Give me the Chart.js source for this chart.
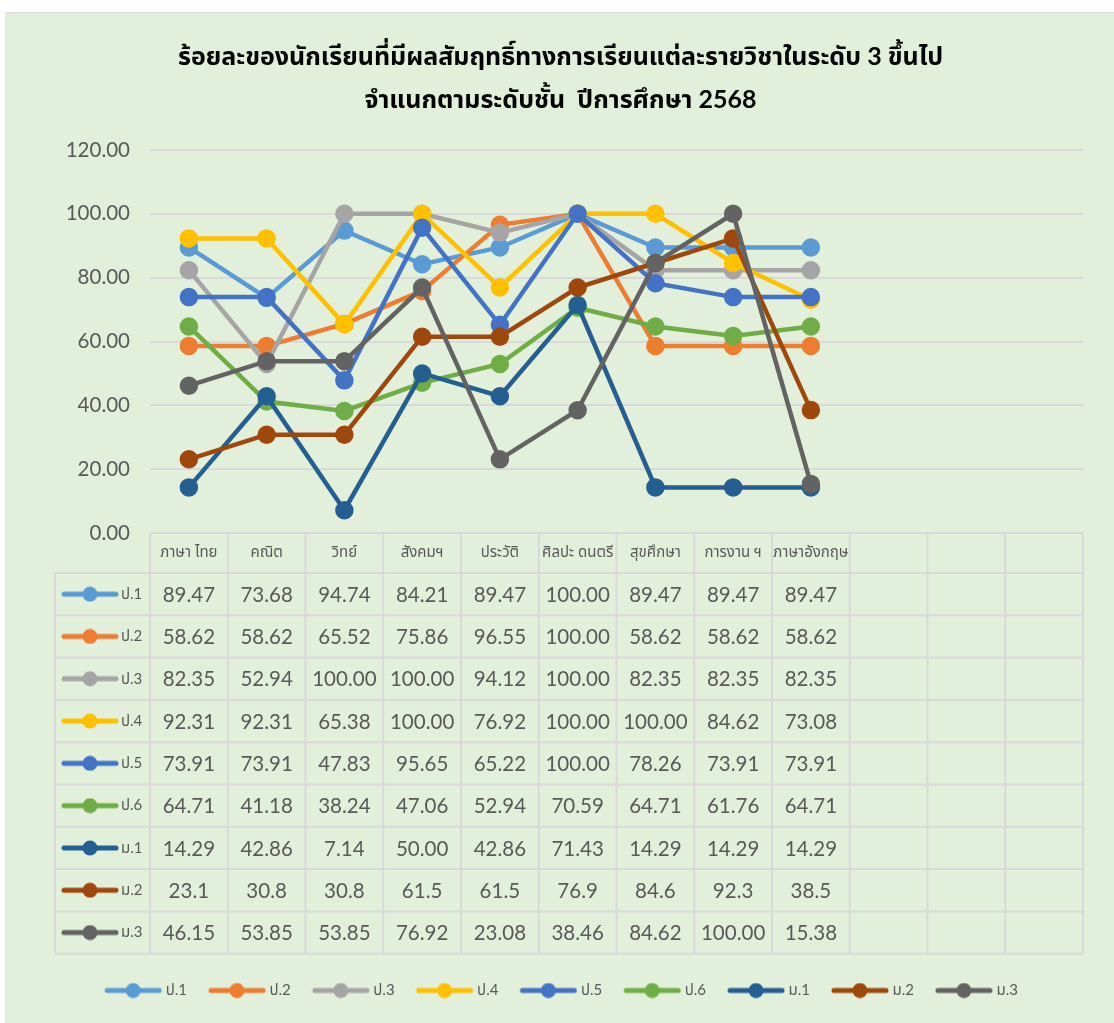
<!DOCTYPE html>
<html><head><meta charset="utf-8">
<script src="https://cdn.jsdelivr.net/npm/chart.js@4.4.1/dist/chart.umd.min.js"></script>
<style>
html,body{margin:0;padding:0;background:#fff;}
#wrap{position:absolute;left:5px;top:12px;width:1109px;height:1011px;background:#E2EFDA;border-top:1px solid #d9d9d9;box-sizing:border-box;}
canvas{display:block;}
</style></head><body>
<div id="wrap"><canvas id="c" width="1109" height="1010"></canvas></div>
<script>
const categories = ['ภาษา ไทย','คณิต','วิทย์','สังคมฯ','ประวัติ','ศิลปะ ดนตรี','สุขศึกษา','การงาน ฯ','ภาษาอังกฤษ','','',''];
const seriesNames = ['ป.1','ป.2','ป.3','ป.4','ป.5','ป.6','ม.1','ม.2','ม.3'];
const p1 = [89.47,73.68,94.74,84.21,89.47,100.00,89.47,89.47,89.47];
const p2 = [58.62,58.62,65.52,75.86,96.55,100.00,58.62,58.62,58.62];
const p3 = [82.35,52.94,100.00,100.00,94.12,100.00,82.35,82.35,82.35];
const p4 = [92.31,92.31,65.38,100.00,76.92,100.00,100.00,84.62,73.08];
const p5 = [73.91,73.91,47.83,95.65,65.22,100.00,78.26,73.91,73.91];
const p6 = [64.71,41.18,38.24,47.06,52.94,70.59,64.71,61.76,64.71];
const m1 = [14.29,42.86,7.14,50.00,42.86,71.43,14.29,14.29,14.29];
const m2 = [23.1,30.8,30.8,61.5,61.5,76.9,84.6,92.3,38.5];
const m3 = [46.15,53.85,53.85,76.92,23.08,38.46,84.62,100.00,15.38];
const seriesValues = [p1,p2,p3,p4,p5,p6,m1,m2,m3];
const seriesDecimals = [2,2,2,2,2,2,2,1,2];
const yTicks = [0,20,40,60,80,100,120];
const titleLines = ['ร้อยละของนักเรียนที่มีผลสัมฤทธิ์ทางการเรียนแต่ละรายวิชาในระดับ 3 ขึ้นไป','จำแนกตามระดับชั้น  ปีการศึกษา 2568'];

const colors = ['#5B9BD5','#ED7D31','#A5A5A5','#FFC000','#4472C4','#70AD47','#255E91','#9E480E','#636363'];
const FONT = 'Lato, "Noto Sans", "Noto Sans Thai", sans-serif';
const TXT = '#595959';

function makeSymbol(color, w, off){
  const c=document.createElement('canvas'); c.width=w; c.height=16;
  const g=c.getContext('2d');
  g.strokeStyle=color; g.lineWidth=5; g.lineCap='round';
  g.beginPath(); g.moveTo(off+3,8); g.lineTo(off+55,8); g.stroke();
  g.fillStyle=color; g.beginPath(); g.arc(off+29,8,7.5,0,Math.PI*2); g.fill();
  return c;
}
const symbols = colors.map(c=>makeSymbol(c,58,0));
const legendSymbols = colors.map(c=>makeSymbol(c,63,5));

const tablePlugin = {
  id:'dataTable',
  afterDraw(chart){
    const ctx=chart.ctx, a=chart.chartArea;
    const n=categories.length;
    const colW=(a.right-a.left)/n;
    const headTop=a.bottom, headBot=a.bottom+40;
    const rowH=42.3, tableLeft=50;
    const nRows=seriesNames.length;
    const tableBot=headBot+rowH*nRows;
    ctx.save();
    ctx.strokeStyle='#D9D9D9'; ctx.lineWidth=2;
    const line=(x1,y1,x2,y2)=>{ctx.beginPath();ctx.moveTo(x1,y1);ctx.lineTo(x2,y2);ctx.stroke();};
    for(let k=0;k<=n;k++){ const x=a.left+k*colW; line(x,headTop,x,tableBot); }
    line(tableLeft,headBot,tableLeft,tableBot);
    line(a.left,headTop,a.right,headTop);
    for(let r=0;r<=nRows;r++){ const y=headBot+r*rowH; line(tableLeft,y,a.right,y); }
    ctx.textAlign='center'; ctx.textBaseline='middle';
    for(let r=0;r<nRows;r++){
      const cy=headBot+(r+0.5)*rowH;
      ctx.fillStyle=TXT; ctx.font='20.5px '+FONT;
      seriesValues[r].forEach((v,i)=>{
        const cx=chart.scales.x.getPixelForValue(i);
        ctx.fillText(v.toFixed(seriesDecimals[r]),cx,cy+1);
      });
      ctx.drawImage(symbols[r],56,cy-8);
      ctx.textAlign='left'; ctx.font='15px '+FONT;
      ctx.fillText(seriesNames[r],116,cy);
      ctx.textAlign='center';
    }
    ctx.restore();
  }
};

const datasets = seriesNames.map((name,i)=>({
  label:name,
  data:seriesValues[i],
  borderColor:colors[i],
  backgroundColor:colors[i],
  pointBackgroundColor:colors[i],
  pointBorderColor:colors[i],
  borderWidth:4.5,
  pointRadius:7,
  pointHoverRadius:7,
  tension:0,
  order:seriesNames.length-i,
  clip:false
}));

new Chart(document.getElementById('c'),{
  type:'line',
  data:{labels:categories,datasets},
  plugins:[tablePlugin],
  options:{
    responsive:false,
    animation:false,
    events:[],
    layout:{padding:{left:33,right:31,top:0,bottom:15}},
    scales:{
      x:{
        offset:true,
        grid:{display:false,drawTicks:false},
        border:{display:false},
        ticks:{color:TXT,font:{family:FONT,size:15},padding:10,autoSkip:false,maxRotation:0,minRotation:0},
        afterFit(s){ s.height=430; }
      },
      y:{
        min:0,max:120,
        afterBuildTicks(s){ s.ticks=yTicks.map(v=>({value:v})); },
        grid:{color:'#D9D9D9',lineWidth:2,drawTicks:false},
        border:{display:false},
        ticks:{color:TXT,font:{family:FONT,size:20.5},padding:20,callback:v=>Number(v).toFixed(2)},
        afterFit(s){ s.width=112; }
      }
    },
    plugins:{
      title:{display:true,text:titleLines,color:'#000',font:{family:FONT,size:25,weight:'bold',lineHeight:1.72},padding:{top:22,bottom:29}},
      legend:{
        position:'bottom',
        labels:{
          usePointStyle:true,pointStyleWidth:55,color:TXT,font:{family:FONT,size:15},padding:20,
          generateLabels(chart){
            const items=Chart.defaults.plugins.legend.labels.generateLabels(chart);
            items.forEach(it=>{it.pointStyle=legendSymbols[it.datasetIndex];});
            items.sort((a,b)=>a.datasetIndex-b.datasetIndex);
            return items;
          }
        }
      },
      tooltip:{enabled:false}
    }
  }
});
</script>
</body></html>
